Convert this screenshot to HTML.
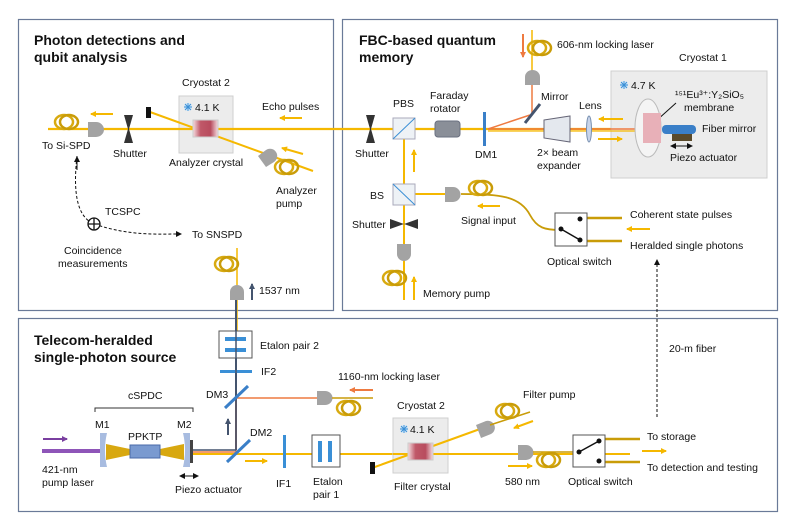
<!DOCTYPE html>
<html><head><meta charset="utf-8"><style>
body{margin:0;background:#fff}
svg{display:block}
text{font-family:"Liberation Sans",Arial,sans-serif;font-size:10.5px;fill:#111}
.t{font-weight:bold;font-size:14px}
</style></head><body>
<svg width="793" height="529" viewBox="0 0 793 529" xmlns="http://www.w3.org/2000/svg">
<defs>
<linearGradient id="cr" x1="0" x2="1"><stop offset="0" stop-color="#f4dde0"/><stop offset="0.3" stop-color="#c05868"/><stop offset="0.7" stop-color="#b84c5e"/><stop offset="1" stop-color="#f4dde0"/></linearGradient>
<marker id="ay" markerWidth="6" markerHeight="6" refX="5" refY="3" orient="auto" markerUnits="userSpaceOnUse"><path d="M0,0 L6,3 L0,6z" fill="#f5b800"/></marker>
<marker id="ao" markerWidth="6" markerHeight="6" refX="5" refY="3" orient="auto" markerUnits="userSpaceOnUse"><path d="M0,0 L6,3 L0,6z" fill="#ee7a40"/></marker>
<marker id="ad" markerWidth="6" markerHeight="6" refX="5" refY="3" orient="auto" markerUnits="userSpaceOnUse"><path d="M0,0 L6,3 L0,6z" fill="#44546e"/></marker>
<marker id="ap" markerWidth="6" markerHeight="6" refX="5" refY="3" orient="auto" markerUnits="userSpaceOnUse"><path d="M0,0 L6,3 L0,6z" fill="#7a3fa0"/></marker>
<marker id="ak" markerWidth="6" markerHeight="6" refX="5" refY="3" orient="auto" markerUnits="userSpaceOnUse"><path d="M0,0 L6,3 L0,6z" fill="#111"/></marker>
<marker id="ak2" markerWidth="6" markerHeight="6" refX="1" refY="3" orient="auto" markerUnits="userSpaceOnUse"><path d="M6,0 L0,3 L6,6z" fill="#111"/></marker>
<g id="coil"><ellipse cx="0" cy="0" rx="9" ry="7" fill="none" stroke="#d8aa10" stroke-width="2.5"/><ellipse cx="5" cy="0" rx="9" ry="7" fill="none" stroke="#c99c08" stroke-width="2.5"/></g>
<g id="sf"><circle r="4" fill="#cfe6f8"/><path d="M-4,0H4M0,-4V4M-3,-3L3,3M-3,3L3,-3" stroke="#3a8fd6" stroke-width="0.9"/></g>
</defs>

<rect x="18.5" y="19.5" width="315" height="291" fill="none" stroke="#6a7a98" stroke-width="1.2"/>
<rect x="342.5" y="19.5" width="435" height="291" fill="none" stroke="#6a7a98" stroke-width="1.2"/>
<rect x="18.5" y="318.5" width="759" height="193" fill="none" stroke="#6a7a98" stroke-width="1.2"/>

<text class="t" x="34" y="45">Photon detections and</text>
<text class="t" x="34" y="62">qubit analysis</text>
<text class="t" x="359" y="45">FBC-based quantum</text>
<text class="t" x="359" y="62">memory</text>
<text class="t" x="34" y="345">Telecom-heralded</text>
<text class="t" x="34" y="362">single-photon source</text>

<rect x="179" y="96" width="54" height="57" fill="#ececec" stroke="#cfcfcf"/>
<line x1="150" y1="112" x2="313" y2="171" stroke="#f5b800" stroke-width="2"/>
<line x1="48" y1="129" x2="633" y2="129" stroke="#f5b800" stroke-width="2.2"/>
<rect x="146" y="107" width="5" height="11" fill="#111"/>
<rect x="193" y="120" width="25" height="17" fill="url(#cr)" stroke="#ccc"/>
<use href="#sf" x="188" y="107"/><text x="195" y="111" font-size="10">4.1 K</text>
<text x="182" y="86">Cryostat 2</text>
<text x="262" y="110">Echo pulses</text>
<line x1="302" y1="118" x2="280" y2="118" stroke="#f5b800" stroke-width="2" marker-end="url(#ay)"/>
<line x1="113" y1="114" x2="91" y2="114" stroke="#f5b800" stroke-width="2" marker-end="url(#ay)"/>
<line x1="303" y1="154" x2="282" y2="148" stroke="#f5b800" stroke-width="2" marker-end="url(#ay)"/>
<use href="#coil" x="64" y="122"/>
<path d="M88,122 h8 a8,7.5 0 0 1 0,15 h-8z" fill="#a3a3a3"/>
<path d="M124,115 L133,115 L129,129 L133,143 L124,143 L128,129z" fill="#333"/>
<path d="M258,156 l8,-6 a7,7 0 0 1 8,12 l-8,5z" fill="#a3a3a3"/>
<use href="#coil" x="284" y="167"/>
<text x="42" y="149">To Si-SPD</text>
<text x="113" y="157">Shutter</text>
<text x="169" y="166">Analyzer crystal</text>
<text x="276" y="194">Analyzer</text>
<text x="276" y="207">pump</text>
<path d="M77,156 C72,200 80,218 94,224 C130,236 155,234 181,234" fill="none" stroke="#111" stroke-dasharray="3,2" stroke-width="1" marker-end="url(#ak)"/>
<line x1="77" y1="170" x2="77" y2="157" stroke="#111" stroke-width="1" marker-end="url(#ak)"/>
<circle cx="94" cy="224" r="6" fill="#fff" stroke="#111" stroke-width="1.3"/>
<path d="M88,224h12M94,218v12" stroke="#111" stroke-width="1.3"/>
<text x="105" y="215">TCSPC</text>
<text x="192" y="238">To SNSPD</text>
<text x="64" y="254">Coincidence</text>
<text x="58" y="267">measurements</text>
<line x1="237" y1="248" x2="237" y2="331" stroke="#f5b800" stroke-width="1.5"/>
<use href="#coil" x="224" y="264"/>
<line x1="236" y1="295" x2="236" y2="450" stroke="#44546e" stroke-width="2"/>
<path d="M230,300 v-8 a7,7 0 0 1 14,0 v8z" fill="#a3a3a3"/>
<line x1="252" y1="300" x2="252" y2="284" stroke="#44546e" stroke-width="2" marker-end="url(#ad)"/>
<text x="259" y="294">1537 nm</text>

<rect x="611" y="71" width="156" height="107" fill="#ececec" stroke="#cfcfcf"/>
<text x="679" y="61">Cryostat 1</text>
<use href="#sf" x="624" y="85"/><text x="631" y="89" font-size="10">4.7 K</text>
<text x="675" y="98">¹⁵¹Eu³⁺:Y₂SiO₅</text>
<text x="684" y="111">membrane</text>
<line x1="676" y1="103" x2="656" y2="121" stroke="#111"/>
<line x1="532" y1="30" x2="532" y2="72" stroke="#f5b800" stroke-width="1.5"/>
<use href="#coil" x="537" y="48"/>
<line x1="523" y1="34" x2="523" y2="57" stroke="#ee7a40" stroke-width="2" marker-end="url(#ao)"/>
<text x="557" y="48">606-nm locking laser</text>
<path d="M525,85 v-8 a7.5,7 0 0 1 15,0 v8z" fill="#a3a3a3"/>
<line x1="532" y1="85" x2="532" y2="115" stroke="#ee7a40" stroke-width="1.5"/>
<line x1="488" y1="129" x2="530" y2="115" stroke="#ee7a40" stroke-width="1.5"/>
<line x1="525" y1="123" x2="540" y2="104" stroke="#44546e" stroke-width="3"/>
<text x="541" y="100">Mirror</text>
<line x1="488" y1="129" x2="635" y2="129" stroke="#ee7a40" stroke-width="1.5"/>
<line x1="488" y1="131" x2="640" y2="131" stroke="#f5b800" stroke-width="1.2"/>
<path d="M366,115 L375,115 L371,129 L375,143 L366,143 L370,129z" fill="#333"/>
<text x="355" y="157">Shutter</text>
<line x1="404" y1="129" x2="404" y2="300" stroke="#f5b800" stroke-width="2"/>
<rect x="393" y="118" width="22" height="21" fill="#eef2f6" stroke="#aab"/>
<line x1="393" y1="139" x2="415" y2="118" stroke="#3a8fd6"/>
<text x="393" y="107">PBS</text>
<rect x="435" y="121" width="25" height="16" rx="3" fill="#8a8f98" stroke="#6a7080"/>
<text x="430" y="99">Faraday</text><text x="430" y="112">rotator</text>
<rect x="483" y="112" width="3" height="34" fill="#3a7fc8"/>
<text x="475" y="158">DM1</text>
<path d="M544,120 L570,116 L570,142 L544,138z" fill="#e4e8ee" stroke="#667"/>
<text x="537" y="156">2× beam</text><text x="537" y="169">expander</text>
<ellipse cx="589" cy="129" rx="2.5" ry="13" fill="#c8d4ea" stroke="#7890b0"/>
<text x="579" y="109">Lens</text>
<line x1="623" y1="119" x2="599" y2="119" stroke="#f5b800" stroke-width="2" marker-end="url(#ay)"/>
<line x1="598" y1="139" x2="622" y2="139" stroke="#f5b800" stroke-width="2" marker-end="url(#ay)"/>
<ellipse cx="648" cy="128" rx="13" ry="29" fill="#f4f4f4" stroke="#bbb"/>
<rect x="643" y="113" width="18" height="30" fill="#e8b0b8"/>
<rect x="662" y="125" width="34" height="9" rx="4" fill="#3a7fc8"/>
<rect x="672" y="134" width="20" height="7" fill="#5a4a2a"/>
<line x1="671" y1="146" x2="692" y2="146" stroke="#111" marker-end="url(#ak)" marker-start="url(#ak2)"/>
<text x="702" y="132">Fiber mirror</text>
<text x="670" y="161">Piezo actuator</text>
<line x1="414" y1="172" x2="414" y2="150" stroke="#f5b800" stroke-width="2" marker-end="url(#ay)"/>
<line x1="404" y1="194" x2="448" y2="194" stroke="#f5b800" stroke-width="2"/>
<rect x="393" y="184" width="22" height="21" fill="#eef2f6" stroke="#aab"/>
<line x1="393" y1="184" x2="415" y2="205" stroke="#3a8fd6"/>
<text x="370" y="199">BS</text>
<path d="M445,187 h8 a7.5,7.5 0 0 1 0,15 h-8z" fill="#a3a3a3"/>
<path d="M461,194 C500,194 520,196 530,215 C537,228 545,230 560,230" fill="none" stroke="#c99c08" stroke-width="1.8"/>
<use href="#coil" x="478" y="188"/>
<line x1="500" y1="206" x2="478" y2="206" stroke="#f5b800" stroke-width="2" marker-end="url(#ay)"/>
<text x="461" y="224">Signal input</text>
<path d="M390,219 L404,224 L418,219 L418,229 L404,224 L390,229z" fill="#333"/>
<text x="352" y="228">Shutter</text>
<path d="M397,260 v-10 a7,7 0 0 1 14,-0 v10z" fill="#a3a3a3" transform="rotate(180 404 252)"/>
<use href="#coil" x="392" y="278"/>
<line x1="414" y1="300" x2="414" y2="277" stroke="#f5b800" stroke-width="2" marker-end="url(#ay)"/>
<text x="423" y="297">Memory pump</text>
<line x1="587" y1="218" x2="622" y2="218" stroke="#c99c08" stroke-width="2.5"/>
<line x1="587" y1="241" x2="622" y2="241" stroke="#c99c08" stroke-width="2.5"/>
<rect x="555" y="213" width="32" height="33" fill="#fff" stroke="#555"/>
<circle cx="580" cy="219" r="2.5" fill="#111"/><circle cx="561" cy="229" r="2.5" fill="#111"/><circle cx="580" cy="240" r="2.5" fill="#111"/>
<line x1="561" y1="229" x2="580" y2="240" stroke="#111" stroke-width="1.5"/>
<text x="630" y="218">Coherent state pulses</text>
<text x="630" y="249">Heralded single photons</text>
<line x1="650" y1="229" x2="627" y2="229" stroke="#f5b800" stroke-width="2" marker-end="url(#ay)"/>
<text x="547" y="265">Optical switch</text>
<line x1="657" y1="417" x2="657" y2="260" stroke="#111" stroke-dasharray="3,2" marker-end="url(#ak)"/>
<text x="669" y="352">20-m fiber</text>

<rect x="219" y="331" width="33" height="27" fill="#fff" stroke="#555"/>
<rect x="225" y="337" width="21" height="4" fill="#3a8fd6"/><rect x="225" y="348" width="21" height="4" fill="#3a8fd6"/>
<text x="260" y="349">Etalon pair 2</text>
<rect x="220" y="370" width="32" height="3" fill="#3a8fd6"/>
<text x="261" y="375">IF2</text>
<text x="338" y="380">1160-nm locking laser</text>
<line x1="236" y1="398" x2="320" y2="398" stroke="#ee7a40" stroke-width="1.5"/>
<line x1="236" y1="398" x2="236" y2="452" stroke="#ee7a40" stroke-width="1.5"/>
<line x1="236" y1="330" x2="236" y2="450" stroke="#44546e" stroke-width="1.5"/>
<line x1="225" y1="408" x2="248" y2="386" stroke="#3a7fc8" stroke-width="3"/>
<text x="206" y="398">DM3</text>
<path d="M317,391 h8 a7.5,7 0 0 1 0,14 h-8z" fill="#a3a3a3"/>
<line x1="332" y1="398" x2="373" y2="398" stroke="#c99c08" stroke-width="1.5"/>
<use href="#coil" x="346" y="408"/>
<line x1="373" y1="390" x2="350" y2="390" stroke="#ee7a40" stroke-width="2" marker-end="url(#ao)"/>
<text x="128" y="399">cSPDC</text>
<path d="M95,412 v-4 h98 v4" fill="none" stroke="#333"/>
<text x="95" y="428">M1</text><text x="128" y="440">PPKTP</text><text x="177" y="428">M2</text>
<line x1="42" y1="451" x2="101" y2="451" stroke="#8e55b8" stroke-width="4"/>
<line x1="43" y1="439" x2="67" y2="439" stroke="#7a3fa0" stroke-width="2" marker-end="url(#ap)"/>
<path d="M106,444 L130,449 L160,449 L184,444 L184,460 L160,455 L130,455 L106,460z" fill="#d8a810"/>
<rect x="130" y="445" width="30" height="13" fill="#7a9ad0" stroke="#4a6aa8"/>
<path d="M100,433 h7 q-4,17 0,34 h-7z" fill="#a8bce0"/>
<path d="M183,433 h7 v34 h-7 q4,-17 0,-34z" fill="#a8bce0"/>
<rect x="190" y="440" width="3" height="23" fill="#444"/>
<line x1="193" y1="450" x2="236" y2="450" stroke="#44546e" stroke-width="1.5"/>
<line x1="193" y1="452" x2="236" y2="452" stroke="#ee7a40" stroke-width="1.5"/>
<line x1="193" y1="454" x2="630" y2="454" stroke="#f5b800" stroke-width="2"/>
<line x1="180" y1="476" x2="198" y2="476" stroke="#111" marker-end="url(#ak)" marker-start="url(#ak2)"/>
<text x="175" y="493">Piezo actuator</text>
<text x="42" y="473">421-nm</text><text x="42" y="486">pump laser</text>
<line x1="228" y1="435" x2="228" y2="419" stroke="#44546e" stroke-width="2" marker-end="url(#ad)"/>
<line x1="227" y1="462" x2="250" y2="440" stroke="#3a7fc8" stroke-width="3"/>
<text x="250" y="436">DM2</text>
<line x1="245" y1="461" x2="267" y2="461" stroke="#f5b800" stroke-width="2" marker-end="url(#ay)"/>
<rect x="283" y="435" width="3" height="33" fill="#3a8fd6"/>
<text x="276" y="487">IF1</text>
<rect x="312" y="435" width="28" height="32" fill="#fff" stroke="#555"/>
<rect x="318" y="441" width="4" height="21" fill="#3a8fd6"/><rect x="328" y="441" width="4" height="21" fill="#3a8fd6"/>
<text x="313" y="485">Etalon</text><text x="313" y="498">pair 1</text>
<rect x="393" y="418" width="55" height="55" fill="#ececec" stroke="#cfcfcf"/>
<line x1="372" y1="468" x2="480" y2="429" stroke="#f5b800" stroke-width="2"/>
<line x1="393" y1="454" x2="520" y2="454" stroke="#f5b800" stroke-width="2"/>
<rect x="370" y="462" width="5" height="12" fill="#111"/>
<rect x="408" y="443" width="25" height="17" fill="url(#cr)" stroke="#ccc"/>
<use href="#sf" x="404" y="429"/><text x="410" y="433" font-size="10">4.1 K</text>
<text x="397" y="409">Cryostat 2</text>
<text x="394" y="490">Filter crystal</text>
<path d="M476,425 l10,-4 a7,7 0 0 1 5,13 l-10,4z" fill="#a3a3a3"/>
<line x1="490" y1="425" x2="530" y2="412" stroke="#c99c08" stroke-width="1.5"/>
<use href="#coil" x="505" y="411"/>
<line x1="533" y1="421" x2="514" y2="428" stroke="#f5b800" stroke-width="2" marker-end="url(#ay)"/>
<text x="523" y="398">Filter pump</text>
<path d="M518,445 h8 a7.5,7.5 0 0 1 0,15 h-8z" fill="#a3a3a3"/>
<line x1="533" y1="452" x2="573" y2="452" stroke="#c99c08" stroke-width="1.5"/>
<use href="#coil" x="546" y="460"/>
<line x1="508" y1="466" x2="532" y2="466" stroke="#f5b800" stroke-width="2" marker-end="url(#ay)"/>
<text x="505" y="485">580 nm</text>
<line x1="605" y1="439" x2="640" y2="439" stroke="#c99c08" stroke-width="2.5"/>
<line x1="605" y1="462" x2="640" y2="462" stroke="#c99c08" stroke-width="2.5"/>
<rect x="573" y="435" width="32" height="32" fill="#fff" stroke="#555"/>
<circle cx="579" cy="452" r="2.5" fill="#111"/><circle cx="599" cy="441" r="2.5" fill="#111"/><circle cx="599" cy="461" r="2.5" fill="#111"/>
<line x1="579" y1="452" x2="599" y2="441" stroke="#111" stroke-width="1.5"/>
<text x="647" y="440">To storage</text>
<text x="647" y="471">To detection and testing</text>
<line x1="642" y1="451" x2="666" y2="451" stroke="#f5b800" stroke-width="2" marker-end="url(#ay)"/>
<text x="568" y="485">Optical switch</text>
</svg>
</body></html>
